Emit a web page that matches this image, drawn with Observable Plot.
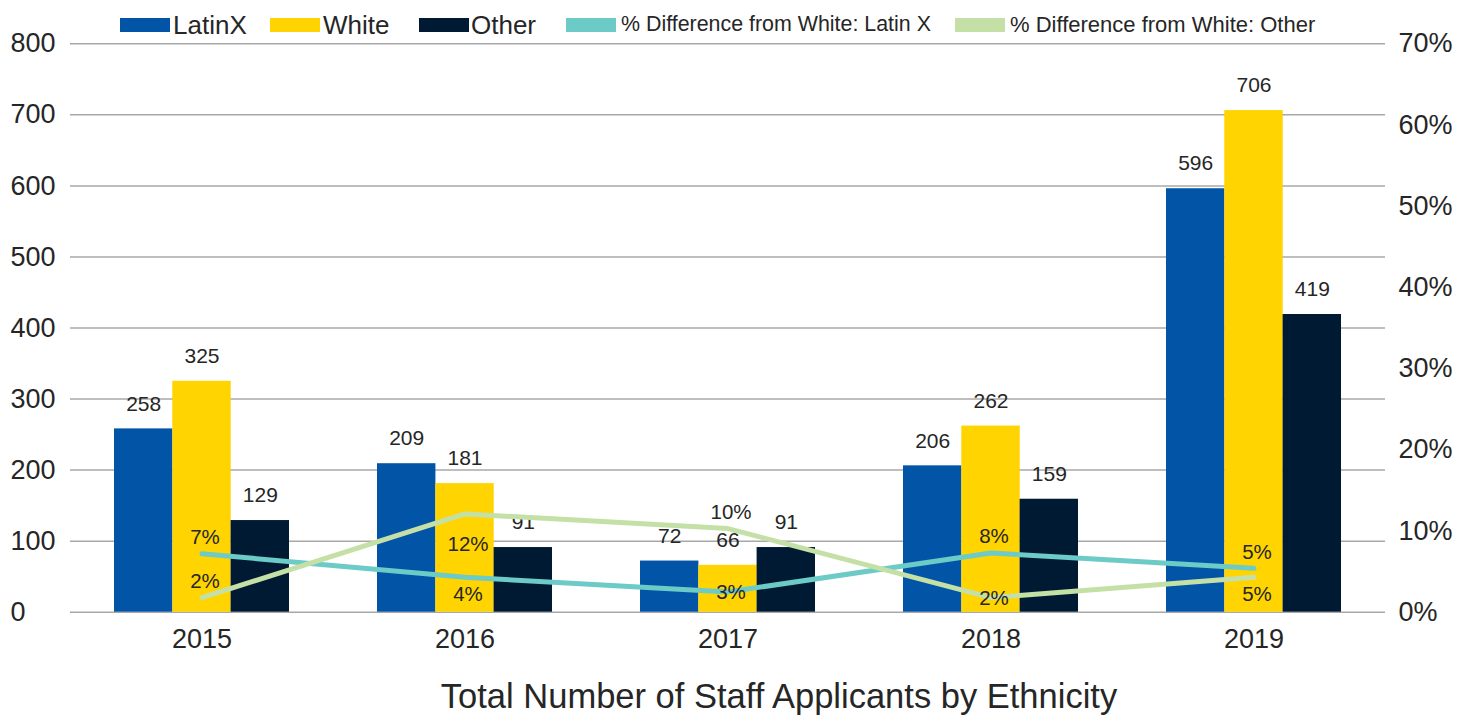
<!DOCTYPE html>
<html>
<head>
<meta charset="utf-8">
<script src="https://cdn.jsdelivr.net/npm/d3@7"></script>
<script src="https://cdn.jsdelivr.net/npm/@observablehq/plot@0.6"></script>
<style>
  body { margin: 0; background: #fff; font-family: "Liberation Sans", Arial, sans-serif; color: #262626; }
  #wrap { position: relative; width: 1472px; }
  #legend { position: relative; height: 29px; width: 1472px; }
  .sw { position: absolute; height: 14px; top: 18px; }
  .lt { position: absolute; top: 25px; transform: translateY(-50%); white-space: nowrap; line-height: 1; }
  #title { width: 1472px; box-sizing: border-box; padding-left: 86px; text-align: center; font-size: 34.5px; line-height: 54px; }
</style>
</head>
<body>
<div id="wrap">
  <div id="legend"></div>
  <div id="chart"></div>
  <div id="title"></div>
</div>
<script>
// ---- data ----
const years = ["2015", "2016", "2017", "2018", "2019"];
const latinx = [258, 209, 72, 206, 596];
const white = [325, 181, 66, 262, 706];
const other = [129, 91, 91, 159, 419];
const pctLatinX = [0.072, 0.043, 0.025, 0.073, 0.054];
const pctOther = [0.018, 0.121, 0.103, 0.018, 0.043];
const pctLatinXLabels = ["7%", "4%", "3%", "8%", "5%"];
const pctOtherLabels = ["2%", "12%", "10%", "2%", "5%"];
const pctLatinXPlace = ["above", "below", "center", "above", "above"];
const pctOtherPlace = ["above", "below2", "above", "center", "below"];
const leftTicks = [0, 100, 200, 300, 400, 500, 600, 700, 800];
const rightTicks = [0, 0.1, 0.2, 0.3, 0.4, 0.5, 0.6, 0.7];
const seriesNames = ["LatinX", "White", "Other"];
const lineNames = ["% Difference from White: Latin X", "% Difference from White: Other"];
const titleText = "Total Number of Staff Applicants by Ethnicity";

// ---- styling ----
const colors = {LatinX: "#0254a6", White: "#ffd400", Other: "#011a33"};
const lineColors = ["#6ccac7", "#c5e0a6"];
const placeDy = {above: -16, below: 17, below2: 30, center: 1};

const W = 1472, mL = 70, mR = 87;
const padIn = 0.335;
const step = (W - mL - mR) / years.length;
const third = step * (1 - padIn) / 3;
const k = 800 / 0.7; // percent -> left axis units

const seriesValues = {LatinX: latinx, White: white, Other: other};
const bars = seriesNames.flatMap(s => years.map((y, i) => ({series: s, year: y, value: seriesValues[s][i]})));
const pctRowsL = years.map((y, i) => ({year: y, pct: pctLatinX[i], label: pctLatinXLabels[i], place: pctLatinXPlace[i]}));
const pctRowsO = years.map((y, i) => ({year: y, pct: pctOther[i], label: pctOtherLabels[i], place: pctOtherPlace[i]}));

const barMarks = [];
seriesNames.forEach((s, j) => {
  const data = bars.filter(d => d.series === s);
  barMarks.push(Plot.barY(data, {x: "year", y: "value", fill: colors[s], insetLeft: third * j, insetRight: third * (2 - j)}));
});
const barLabels = seriesNames.map((s, j) =>
  Plot.text(bars.filter(d => d.series === s), {x: "year", y: "value", text: d => String(d.value), dx: third * (j - 1), dy: -25, fontSize: 21, fill: "#262626"}));

const pctLabelMarks = [];
for (const rows of [pctRowsL, pctRowsO]) {
  for (const p of Object.keys(placeDy)) {
    const sub = rows.filter(d => d.place === p);
    if (sub.length) pctLabelMarks.push(Plot.text(sub, {x: "year", y: d => d.pct * k, text: "label", dx: 3, dy: placeDy[p], fontSize: 20.5, fill: "#262626"}));
  }
}

const chart = Plot.plot({
  width: W, height: 640,
  marginLeft: mL, marginRight: mR, marginTop: 14.3, marginBottom: 57.3,
  style: {fontFamily: "'Liberation Sans', Arial, sans-serif", color: "#262626", background: "white", overflow: "visible"},
  x: {domain: years, paddingInner: padIn, paddingOuter: padIn / 2, label: null},
  y: {domain: [0, 800], label: null},
  marks: [
    Plot.ruleY(leftTicks, {stroke: "#a8a8a8", strokeWidth: 1.5}),
    Plot.axisY(leftTicks, {anchor: "left", tickSize: 0, tickPadding: 0, textAnchor: "start", dx: -60, fontSize: 27, tickFormat: d => String(d), label: null}),
    Plot.axisY(rightTicks.map(p => p * k), {anchor: "right", tickSize: 0, tickPadding: 13, fontSize: 27, tickFormat: d => Math.round(d / k * 100) + "%", label: null}),
    Plot.axisX({tickSize: 0, tickPadding: 17, fontSize: 27, label: null}),
    ...barMarks,
    ...barLabels,
    Plot.line(pctRowsL, {x: "year", y: d => d.pct * k, stroke: lineColors[0], strokeWidth: 5}),
    Plot.line(pctRowsO, {x: "year", y: d => d.pct * k, stroke: lineColors[1], strokeWidth: 5}),
    ...pctLabelMarks
  ]
});
document.getElementById("chart").appendChild(chart);

// ---- legend ----
const legend = document.getElementById("legend");
const legItems = [
  {name: seriesNames[0], color: colors.LatinX, sx: 120, tx: 173, fs: 26},
  {name: seriesNames[1], color: colors.White, sx: 270, tx: 323, fs: 26},
  {name: seriesNames[2], color: colors.Other, sx: 419, tx: 471, fs: 26},
  {name: lineNames[0], color: lineColors[0], sx: 566, tx: 621, fs: 21.4},
  {name: lineNames[1], color: lineColors[1], sx: 955, tx: 1010, fs: 22}
];
for (const it of legItems) {
  const sw = document.createElement("div");
  sw.className = "sw";
  sw.style.left = it.sx + "px";
  sw.style.width = "50px";
  sw.style.background = it.color;
  legend.appendChild(sw);
  const t = document.createElement("div");
  t.className = "lt";
  t.style.left = it.tx + "px";
  t.style.fontSize = it.fs + "px";
  t.textContent = it.name;
  legend.appendChild(t);
}
document.getElementById("title").textContent = titleText;
</script>
</body>
</html>
